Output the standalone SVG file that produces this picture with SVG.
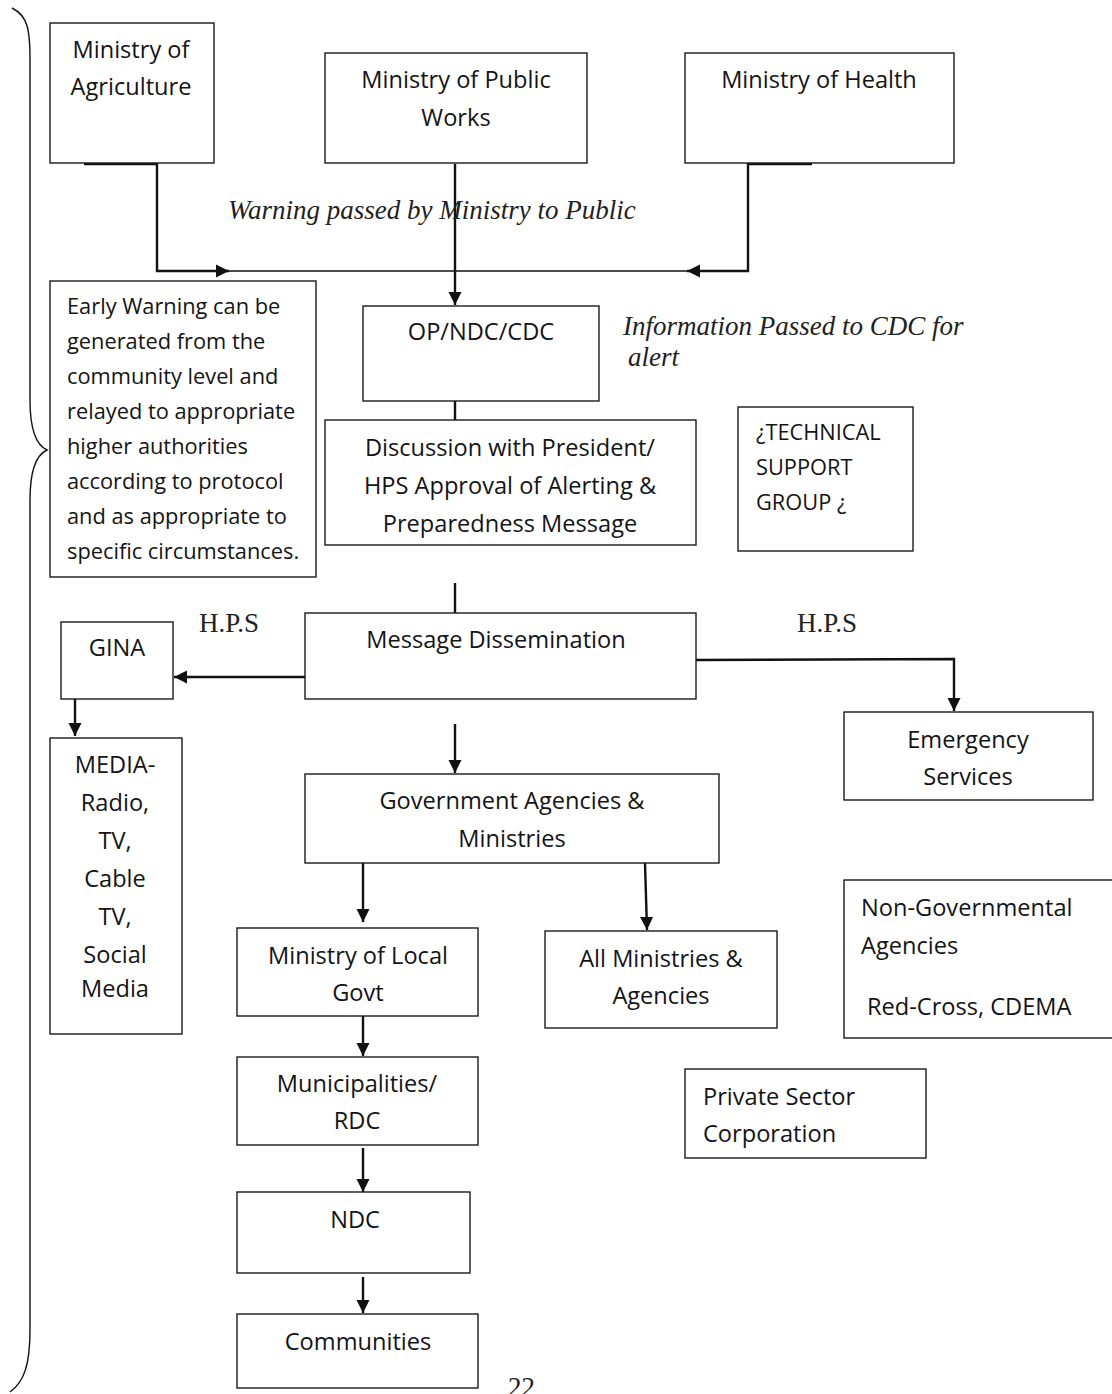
<svg xmlns="http://www.w3.org/2000/svg" width="1112" height="1394" viewBox="0 0 1112 1394">
  <style>
    .box { fill: #ffffff; stroke: #1a1a1a; stroke-width: 1.4; }
    .t { font-family: "Open Sans", Lato, "Liberation Sans", sans-serif; font-size: 23.6px; fill: #141414; }
    .s { font-size: 21.8px; }
    .c { text-anchor: middle; }
    .it { font-family: "Liberation Serif", serif; font-style: italic; font-size: 27px; fill: #222; }
    .sr { font-family: "Liberation Serif", serif; font-size: 27px; fill: #222; }
    .ln { fill: none; stroke: #111; stroke-width: 2.4; }
    .thin { fill: none; stroke: #111; stroke-width: 1.4; }
  </style>
  <defs>
    <marker id="arr" viewBox="0 0 10 10" refX="10" refY="5" markerWidth="5.5" markerHeight="5.5" markerUnits="strokeWidth" orient="auto">
      <path d="M0,0 L10,5 L0,10 z" fill="#111"/>
    </marker>
  </defs>
  <rect width="1112" height="1394" fill="#ffffff"/>

  <!-- left brace spanning the whole chart -->
  <path class="thin" stroke-width="2" d="M12,8 C28,16 30,30 30,60 L30,400 C30,430 36,445 47,450 C36,455 30,470 30,500 L30,1330 C30,1365 24,1382 10,1392"/>

  <!-- connectors -->
  <g id="connectors">
    <path class="ln" d="M84,164 L157,164 L157,271 L229,271" marker-end="url(#arr)"/>
    <path class="thin" d="M229,271 L687,271"/>
    <path class="ln" d="M812,164 L748,164 L748,271 L687,271" marker-end="url(#arr)"/>
    <path class="ln" d="M455,164 L455,305" marker-end="url(#arr)"/>
    <path class="ln" d="M455,401 L455,420"/>
    <path class="ln" d="M455,583 L455,613"/>
    <path class="ln" d="M305,677 L174,677" marker-end="url(#arr)"/>
    <path class="ln" d="M75,699 L75,736" marker-end="url(#arr)"/>
    <path class="ln" d="M696,660 L954,659 L954,711" marker-end="url(#arr)"/>
    <path class="ln" d="M455,724 L455,773" marker-end="url(#arr)"/>
    <path class="ln" d="M363,863 L363,922" marker-end="url(#arr)"/>
    <path class="ln" d="M645,863 L647,930" marker-end="url(#arr)"/>
    <path class="ln" d="M363,1016 L363,1056" marker-end="url(#arr)"/>
    <path class="ln" d="M363,1148 L363,1192" marker-end="url(#arr)"/>
    <path class="ln" d="M363,1277 L363,1313" marker-end="url(#arr)"/>
  </g>

  <!-- free labels -->
  <text class="it" x="228" y="219">Warning passed by Ministry to Public</text>
  <text class="it" x="623" y="335">Information Passed to CDC for</text>
  <text class="it" x="628" y="366">alert</text>
  <text class="sr" x="199" y="632">H.P.S</text>
  <text class="sr" x="797" y="632">H.P.S</text>
  <text class="sr" x="508" y="1396">22</text>

  <g id="agriculture">
    <rect class="box" x="50" y="23" width="164" height="140"/>
    <text class="t c" x="131" y="58">Ministry of</text>
    <text class="t c" x="131" y="95">Agriculture</text>
  </g>
  <g id="public-works">
    <rect class="box" x="325" y="53" width="262" height="110"/>
    <text class="t c" x="456" y="88">Ministry of Public</text>
    <text class="t c" x="456" y="126">Works</text>
  </g>
  <g id="health">
    <rect class="box" x="685" y="53" width="269" height="110"/>
    <text class="t c" x="819" y="88">Ministry of Health</text>
  </g>
  <g id="early-warning">
    <rect class="box" x="50" y="281" width="266" height="296"/>
    <text class="t s" x="67" y="314">Early Warning can be</text>
    <text class="t s" x="67" y="349">generated from the</text>
    <text class="t s" x="67" y="384">community level and</text>
    <text class="t s" x="67" y="419">relayed to appropriate</text>
    <text class="t s" x="67" y="454">higher authorities</text>
    <text class="t s" x="67" y="489">according to protocol</text>
    <text class="t s" x="67" y="524">and as appropriate to</text>
    <text class="t s" x="67" y="559">specific circumstances.</text>
  </g>
  <g id="op-ndc-cdc">
    <rect class="box" x="363" y="306" width="236" height="95"/>
    <text class="t c" x="481" y="340">OP/NDC/CDC</text>
  </g>
  <g id="discussion">
    <rect class="box" x="325" y="420" width="371" height="125"/>
    <text class="t c" x="510" y="456">Discussion with President/</text>
    <text class="t c" x="510" y="494">HPS Approval of Alerting &amp;</text>
    <text class="t c" x="510" y="532">Preparedness Message</text>
  </g>
  <g id="technical-support">
    <rect class="box" x="738" y="407" width="175" height="144"/>
    <text class="t s" x="756" y="440">¿TECHNICAL</text>
    <text class="t s" x="756" y="475">SUPPORT</text>
    <text class="t s" x="756" y="510">GROUP ¿</text>
  </g>
  <g id="message-dissemination">
    <rect class="box" x="305" y="613" width="391" height="86"/>
    <text class="t c" x="496" y="648">Message Dissemination</text>
  </g>
  <g id="gina">
    <rect class="box" x="61" y="622" width="112" height="77"/>
    <text class="t c" x="117" y="656">GINA</text>
  </g>
  <g id="media">
    <rect class="box" x="50" y="738" width="132" height="296"/>
    <text class="t c" x="115" y="773">MEDIA-</text>
    <text class="t c" x="115" y="811">Radio,</text>
    <text class="t c" x="115" y="849">TV,</text>
    <text class="t c" x="115" y="887">Cable</text>
    <text class="t c" x="115" y="925">TV,</text>
    <text class="t c" x="115" y="963">Social</text>
    <text class="t c" x="115" y="997">Media</text>
  </g>
  <g id="emergency-services">
    <rect class="box" x="844" y="712" width="249" height="88"/>
    <text class="t c" x="968" y="748">Emergency</text>
    <text class="t c" x="968" y="785">Services</text>
  </g>
  <g id="government-agencies">
    <rect class="box" x="305" y="774" width="414" height="89"/>
    <text class="t c" x="512" y="809">Government Agencies &amp;</text>
    <text class="t c" x="512" y="847">Ministries</text>
  </g>
  <g id="local-govt">
    <rect class="box" x="237" y="928" width="241" height="88"/>
    <text class="t c" x="358" y="964">Ministry of Local</text>
    <text class="t c" x="358" y="1001">Govt</text>
  </g>
  <g id="all-ministries">
    <rect class="box" x="545" y="931" width="232" height="97"/>
    <text class="t c" x="661" y="967">All Ministries &amp;</text>
    <text class="t c" x="661" y="1004">Agencies</text>
  </g>
  <g id="ngo">
    <rect class="box" x="844" y="880" width="272" height="158"/>
    <text class="t" x="861" y="916">Non-Governmental</text>
    <text class="t" x="861" y="954">Agencies</text>
    <text class="t" x="867" y="1015">Red-Cross, CDEMA</text>
  </g>
  <g id="private-sector">
    <rect class="box" x="685" y="1069" width="241" height="89"/>
    <text class="t" x="703" y="1105">Private Sector</text>
    <text class="t" x="703" y="1142">Corporation</text>
  </g>
  <g id="municipalities">
    <rect class="box" x="237" y="1057" width="241" height="88"/>
    <text class="t c" x="357" y="1092">Municipalities/</text>
    <text class="t c" x="357" y="1129">RDC</text>
  </g>
  <g id="ndc">
    <rect class="box" x="237" y="1192" width="233" height="81"/>
    <text class="t c" x="355" y="1228">NDC</text>
  </g>
  <g id="communities">
    <rect class="box" x="237" y="1314" width="241" height="74"/>
    <text class="t c" x="358" y="1350">Communities</text>
  </g>
</svg>
